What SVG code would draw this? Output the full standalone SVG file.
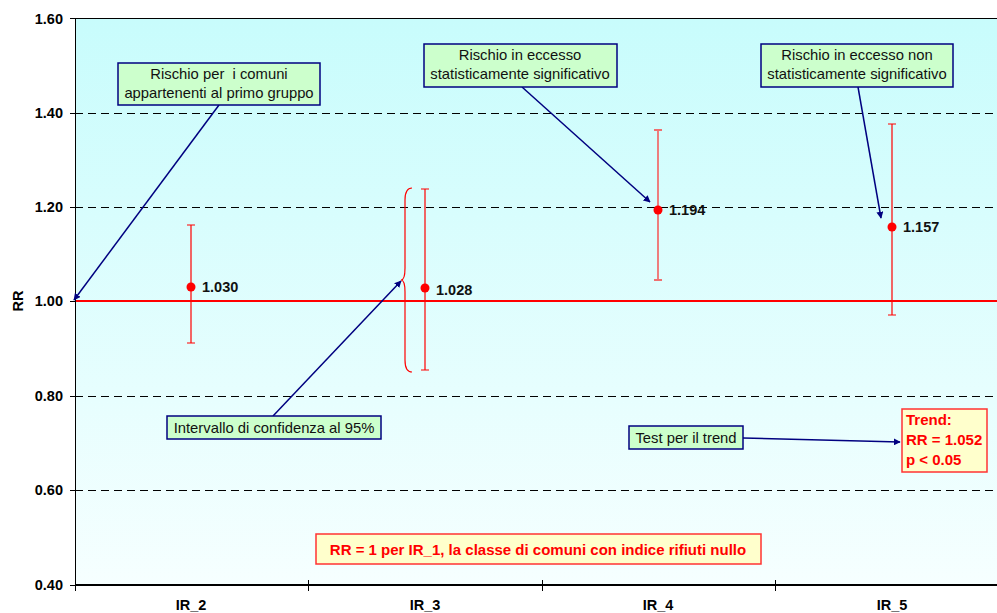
<svg xmlns="http://www.w3.org/2000/svg" width="997" height="613" viewBox="0 0 997 613">
<style>
.ax{font-family:"Liberation Sans",Arial,sans-serif;font-size:14.5px;font-weight:bold;fill:#000}
.lbl{font-family:"Liberation Sans",Arial,sans-serif;font-size:14.5px;font-weight:bold;fill:#111}
.note{font-family:"Liberation Sans",Arial,sans-serif;font-size:14.8px;fill:#111}
.rt{font-family:"Liberation Sans",Arial,sans-serif;font-size:15px;font-weight:bold;fill:#ff0000}
.box{fill:#ccffcc;stroke:#000080;stroke-width:1.5}
.ybox{fill:#ffffcc;stroke:#ff3333;stroke-width:1.5}
.grid{stroke:#000;stroke-width:1;stroke-dasharray:8,5}
.err{stroke:#ff0000;stroke-width:1.2;fill:none}
.conn{stroke:#000080;stroke-width:1.5;fill:none;marker-end:url(#ah)}
</style>
<defs>
<linearGradient id="bg" x1="0" y1="0" x2="0" y2="1">
<stop offset="0" stop-color="#c8fcfc"/>
<stop offset="1" stop-color="#f6ffff"/>
</linearGradient>
<marker id="ah" viewBox="0 0 10 10" refX="9" refY="5" markerWidth="7" markerHeight="7" orient="auto" markerUnits="userSpaceOnUse">
<path d="M0,0 L10,5 L0,10 z" fill="#000080"/>
</marker>
</defs>
<rect width="997" height="613" fill="#fff"/>
<g id="plot">
<rect x="75" y="19" width="922" height="566" fill="url(#bg)"/>
<line x1="75" y1="18.5" x2="997" y2="18.5" stroke="#000" stroke-width="1.2"/>
<line class="grid" x1="75" y1="113.5" x2="997" y2="113.5"/>
<line class="grid" x1="75" y1="207.5" x2="997" y2="207.5"/>
<line class="grid" x1="75" y1="396.5" x2="997" y2="396.5"/>
<line class="grid" x1="75" y1="490.5" x2="997" y2="490.5"/>
<line x1="75" y1="301" x2="997" y2="301" stroke="#ff0000" stroke-width="2"/>
<line x1="75.5" y1="19" x2="75.5" y2="585" stroke="#000" stroke-width="1"/>
<line x1="75" y1="585" x2="997" y2="585" stroke="#000" stroke-width="2"/>
<g stroke="#000" stroke-width="1">
<line x1="70" y1="18.5" x2="75" y2="18.5"/>
<line x1="70" y1="113.5" x2="75" y2="113.5"/>
<line x1="70" y1="207.5" x2="75" y2="207.5"/>
<line x1="70" y1="301.5" x2="75" y2="301.5"/>
<line x1="70" y1="396.5" x2="75" y2="396.5"/>
<line x1="70" y1="490.5" x2="75" y2="490.5"/>
<line x1="70" y1="585.5" x2="75" y2="585.5"/>
<line x1="75.5" y1="585" x2="75.5" y2="591"/>
<line x1="308.5" y1="580" x2="308.5" y2="591"/>
<line x1="542.5" y1="580" x2="542.5" y2="591"/>
<line x1="775.5" y1="580" x2="775.5" y2="591"/>
</g>
<g class="ax" text-anchor="end">
<text x="63" y="24">1.60</text>
<text x="63" y="118">1.40</text>
<text x="63" y="212">1.20</text>
<text x="63" y="306">1.00</text>
<text x="63" y="401">0.80</text>
<text x="63" y="495">0.60</text>
<text x="63" y="590">0.40</text>
</g>
<text class="ax" transform="translate(23,301) rotate(-90)" text-anchor="middle">RR</text>
<g class="ax" text-anchor="middle">
<text x="191" y="610">IR_2</text>
<text x="425" y="610">IR_3</text>
<text x="658" y="610">IR_4</text>
<text x="892" y="610">IR_5</text>
</g>
</g>
<g id="ir2">
<path class="err" d="M191,225 V343 M187,225 H195 M187,343 H195"/>
<circle cx="191" cy="287" r="4.5" fill="#ff0000"/>
<text class="lbl" x="202" y="292">1.030</text>
</g>
<g id="ir3">
<path class="err" d="M425,189 V370 M421,189 H429 M421,370 H429"/>
<circle cx="425" cy="288" r="4.5" fill="#ff0000"/>
<text class="lbl" x="436" y="295">1.028</text>
</g>
<g id="brace">
<path class="err" d="M412,188 Q405,188 405,200 V268 Q405,280 401,280 Q405,280 405,292 V360 Q405,372 412,372"/>
</g>
<g id="ir4">
<path d="M658,130 V280 M654,130 H662 M654,280 H662" stroke="#f07070" stroke-width="1.8" fill="none"/>
<circle cx="658" cy="210" r="4.5" fill="#ff0000"/>
<text class="lbl" x="669" y="215">1.194</text>
</g>
<g id="ir5">
<path class="err" d="M892,124 V315 M888,124 H896 M888,315 H896"/>
<circle cx="892" cy="227" r="4.5" fill="#ff0000"/>
<text class="lbl" x="903" y="232">1.157</text>
</g>
<g id="connectors">
<line class="conn" x1="219" y1="105" x2="74" y2="300"/>
<line class="conn" x1="522" y1="87" x2="650" y2="202"/>
<line class="conn" x1="858" y1="87" x2="881" y2="218"/>
<line class="conn" x1="273" y1="416" x2="401" y2="281"/>
<line class="conn" x1="743" y1="438" x2="900" y2="442"/>
</g>
<g id="note1">
<rect class="box" x="118" y="63" width="202" height="42"/>
<text class="note" x="219" y="79" text-anchor="middle" xml:space="preserve">Rischio per  i comuni</text>
<text class="note" x="219" y="98" text-anchor="middle">appartenenti al primo gruppo</text>
</g>
<g id="note2">
<rect class="box" x="424" y="44" width="193" height="43"/>
<text class="note" x="520" y="60" text-anchor="middle">Rischio in eccesso</text>
<text class="note" x="520" y="79" text-anchor="middle">statisticamente significativo</text>
</g>
<g id="note3">
<rect class="box" x="761" y="44" width="192" height="43"/>
<text class="note" x="857" y="60" text-anchor="middle">Rischio in eccesso non</text>
<text class="note" x="857" y="79" text-anchor="middle">statisticamente significativo</text>
</g>
<g id="note4">
<rect class="box" x="167" y="416" width="214" height="23"/>
<text class="note" x="274" y="433" text-anchor="middle">Intervallo di confidenza al 95%</text>
</g>
<g id="note5">
<rect class="box" x="629" y="426" width="114" height="23"/>
<text class="note" x="686" y="443" text-anchor="middle">Test per il trend</text>
</g>
<g id="trend">
<rect class="ybox" x="902" y="409" width="85" height="63"/>
<text class="rt" x="906" y="425">Trend:</text>
<text class="rt" x="906" y="445">RR = 1.052</text>
<text class="rt" x="906" y="465">p &lt; 0.05</text>
</g>
<g id="footnote">
<rect class="ybox" x="316" y="534" width="445" height="30"/>
<text class="rt" x="538" y="555" text-anchor="middle">RR = 1 per IR_1, la classe di comuni con indice rifiuti nullo</text>
</g>
</svg>
